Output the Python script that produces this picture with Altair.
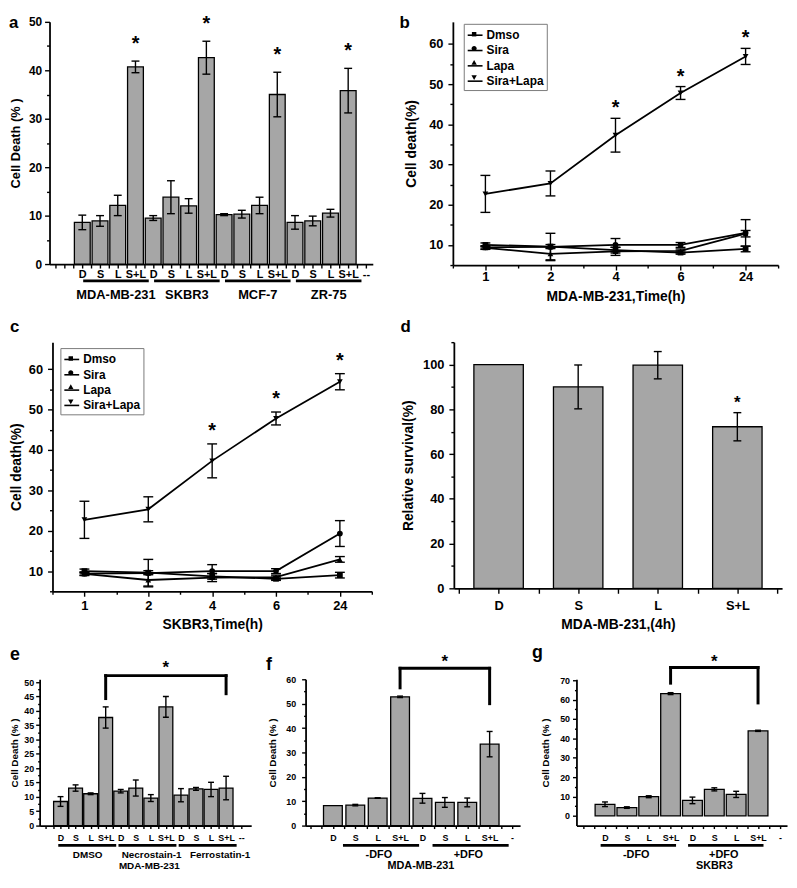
import json
import altair as alt
import pandas as pd

FONT = "Liberation Sans"
BAR_FILL = "#a6a6a6"

# ---------------- data ----------------
treat = ["D", "S", "L", "S+L"]

# panel a
a_groups = ["MDA-MB-231", "SKBR3", "MCF-7", "ZR-75"]
a_mean = [8.6, 8.9, 12.1, 40.7, 9.5, 13.8, 12.0, 42.6, 10.2, 10.3, 12.1, 35.0, 8.6, 8.9, 10.5, 35.8]
a_err = [1.5, 1.1, 2.1, 1.2, 0.5, 3.4, 1.5, 3.4, 0.2, 0.8, 1.7, 4.6, 1.4, 1.0, 0.8, 4.6]

# panels b / c
time_labels = ["1", "2", "4", "6", "24"]
series = ["Dmso", "Sira", "Lapa", "Sira+Lapa"]
b_dmso = [10.0, 9.6, 8.7, 8.1, 9.0]
b_dmso_err = [0.5, 0.5, 0.7, 0.4, 0.7]
b_sira = [9.4, 9.5, 10.0, 10.0, 13.0]
b_sira_err = [0.4, 3.4, 1.6, 0.6, 3.3]
b_lapa = [9.3, 7.8, 8.4, 8.5, 12.8]
b_lapa_err = [0.4, 1.5, 1.0, 0.5, 0.8]
b_combo = [22.7, 25.3, 37.3, 47.8, 56.9]
b_combo_err = [4.6, 3.1, 4.2, 1.6, 2.0]

c_dmso = [10.0, 9.6, 8.7, 8.1, 9.0]
c_dmso_err = [0.5, 0.5, 0.7, 0.4, 0.7]
c_sira = [9.4, 9.5, 10.0, 10.0, 19.3]
c_sira_err = [0.4, 3.4, 1.6, 0.6, 3.2]
c_lapa = [9.3, 7.8, 8.4, 8.5, 12.9]
c_lapa_err = [0.4, 1.5, 1.0, 0.5, 0.7]
c_combo = [22.7, 25.3, 37.3, 47.8, 56.9]
c_combo_err = [4.6, 3.1, 4.2, 1.6, 2.0]
star_times = [2, 3, 4]

# panel d
d_labels = ["D", "S", "L", "S+L"]
d_mean = [100.0, 90.0, 99.7, 72.2]
d_err = [0.0, 9.8, 6.1, 6.3]

# panel e
e_groups = ["DMSO", "Necrostain-1", "Ferrostatin-1"]
e_mean = [8.4, 13.1, 11.1, 37.7, 12.0, 13.1, 9.6, 41.4, 10.6, 12.8, 12.6, 13.1]
e_err = [1.7, 1.1, 0.3, 3.7, 0.6, 2.8, 1.2, 3.6, 2.3, 0.5, 2.5, 4.1]
e_bracket = [52.3, 44.3, 46.0]   # top, left leg end, right leg end

# panel f
f_groups = ["-DFO", "+DFO"]
f_mean = [8.2, 8.4, 11.3, 52.8, 11.2, 9.5, 9.5, 33.4]
f_err = [0.0, 0.3, 0.1, 0.3, 2.0, 2.0, 1.8, 5.2]
f_bracket = [64.5, 56.5, 50.0]

# panel g
g_groups = ["-DFO", "+DFO"]
g_mean = [6.0, 4.3, 9.9, 63.1, 8.0, 13.7, 11.1, 43.9]
g_err = [1.2, 0.4, 0.5, 0.5, 1.7, 0.8, 1.6, 0.3]
g_bracket = [76.6, 68.5, 58.3]

SHAPES = ["square", "circle", "triangle-up", "triangle-down"]
LEG_SHAPES = [
    "M-0.3,-0.3H0.3V0.3H-0.3Z",
    "M0.34,0A0.34,0.34 0 1,1 -0.34,0A0.34,0.34 0 1,1 0.34,0Z",
    "M0,-0.38L0.36,0.26H-0.36Z",
    "M0,0.38L0.36,-0.26H-0.36Z",
]


# ---------------- helpers ----------------
def half_ticks(lo, hi):
    return [k / 2 for k in range(int(lo * 2) - 2, int(hi * 2) + 3) if lo - 1e-9 <= k / 2 <= hi + 1e-9]


def frame(L, R, T, B):
    # invisible box fixing the panel's extent in the grid
    return alt.Chart(pd.DataFrame({"k": [0]})).mark_rect(opacity=0).encode(
        x=alt.value(L), x2=alt.value(R), y=alt.value(T), y2=alt.value(B))


def spacer():
    # 1px anchor at the left of each row so that rows start at the same x
    return frame(0, 1, 0, 1).properties(width=1, height=1)


def letter(txt, x, y, size=17):
    return alt.Chart(pd.DataFrame({"t": [txt]})).mark_text(
        align="left", baseline="middle", fontSize=size, fontWeight="bold", font=FONT, color="black"
    ).encode(text="t:N", x=alt.value(x), y=alt.value(y))


def y_axis(c):
    m = c["ymaj"]
    return alt.Axis(
        title=c["ytitle"], values=c["yvals"],
        labelExpr=f"datum.value % {m} === 0 ? datum.label : ''",
        tickSize={"condition": {"test": f"datum.value % {m} === 0", "value": c.get("ytick", 5)},
                  "value": c.get("ytick_minor", 3)},
        labelFontSize=c["yfs"], labelPadding=c["ylabpad"], titleFontSize=c["ytfs"],
        titlePadding=c["ytpad"], labelOverlap=False, labelFlush=False)


def x_axis(c):
    arr = json.dumps(c["xlabels"])
    kw = dict(values=half_ticks(*c["xdom"]),
              labelExpr=f"{arr}[datum.value] || ''",
              tickSize={"condition": {"test": "datum.value % 1 === 0", "value": c["xtick"]},
                        "value": c.get("xtick_minor", c["xtick"])},
              labelFontSize=c["xfs"], labelPadding=c["xpad"], labelOverlap=False,
              labelFlush=False, labelBound=False)
    if c.get("xtitle"):
        kw.update(title=c["xtitle"], titleFontSize=c["xtfs"], titlePadding=c["xtpad"])
    else:
        kw.update(title=None)
    return alt.Axis(**kw)


class Enc:
    def __init__(self, c):
        self.xs = alt.Scale(domain=c["xdom"], nice=False, zero=False)
        self.ys = alt.Scale(domain=c["ydom"], nice=False, zero=False)
        self.xa = x_axis(c)
        self.ya = y_axis(c)

    def X(self, f):
        return alt.X(f"{f}:Q", scale=self.xs, axis=self.xa)

    def Y(self, f):
        return alt.Y(f"{f}:Q", scale=self.ys, axis=self.ya)


def err_layers(df, E, cap):
    errs = alt.Chart(df).transform_filter("datum.err > 0")
    rule = errs.mark_rule(color="black", strokeWidth=1.4).encode(
        x=E.X("pos"), y=E.Y("lo"), y2="hi:Q")
    lo = errs.mark_tick(color="black", orient="horizontal", size=cap, thickness=1.4, opacity=1).encode(
        x=E.X("pos"), y=E.Y("lo"))
    hi = errs.mark_tick(color="black", orient="horizontal", size=cap, thickness=1.4, opacity=1).encode(
        x=E.X("pos"), y=E.Y("hi"))
    return [rule, lo, hi]


def bar_panel(c):
    n = len(c["mean"])
    df = pd.DataFrame({"pos": list(range(1, n + 1)), "mean": c["mean"], "err": c["err"]})
    df["lo"] = df["mean"] - df["err"]
    df["hi"] = df["mean"] + df["err"]
    df["star"] = c["star"]
    W, H = c["W"], c["H"]
    E = Enc(c)
    base = alt.Chart(df)
    layers = [frame(*c["frame"])]
    layers.append(base.mark_bar(width=c["bw"], fill=BAR_FILL, stroke="black", strokeWidth=1.3).encode(
        x=E.X("pos"), y=E.Y("mean"), y2=alt.value(H)))
    layers += err_layers(df, E, c["cap"])
    if any(c["star"]):
        layers.append(base.transform_filter("datum.star").mark_text(
            text="*", fontSize=c["sfs"], dy=-c["sd"], baseline="middle", font=FONT,
            fontWeight="bold", color="black").encode(x=E.X("pos"), y=E.Y("hi")))
    if c.get("groups"):
        g = c["groups"]
        starts = [1 + 4 * i for i in range(len(g))]
        offc = c["goffc"] if isinstance(c["goffc"], list) else [c["goffc"]] * len(g)
        gdf = pd.DataFrame({"name": g,
                            "x1": [s + c["goff1"] for s in starts],
                            "x2": [s + c["goff2"] for s in starts],
                            "xc": [s + o for s, o in zip(starts, offc)]})
        layers.append(alt.Chart(gdf).mark_rule(color="black", strokeWidth=3).encode(
            x=E.X("x1"), x2="x2:Q", y=alt.value(H + c["uoff"])))
        layers.append(alt.Chart(gdf).mark_text(
            fontSize=c["gfs"], baseline="middle", font=FONT, fontWeight="bold", color="black").encode(
            x=E.X("xc"), y=alt.value(H + c["goff"]), text="name:N"))
    if c.get("title"):
        tdf = pd.DataFrame({"t": [c["title"]], "xc": [c["title_x"]]})
        layers.append(alt.Chart(tdf).mark_text(
            fontSize=c["tfs"], baseline="middle", font=FONT, fontWeight="bold", color="black").encode(
            x=E.X("xc"), y=alt.value(H + c["toff"]), text="t:N"))
    if c.get("bracket"):
        top, lb, rb = c["bracket"]
        xa, xb = c["bracket_x"]
        bdf = pd.DataFrame({"x": [xa, xa, xb], "x2": [xb, xa, xb],
                            "y": [top, lb, rb], "y2": [top, top, top]})
        layers.append(alt.Chart(bdf).mark_rule(color="black", strokeWidth=3, strokeCap="square").encode(
            x=E.X("x"), x2="x2:Q", y=E.Y("y"), y2="y2:Q"))
        sdf = pd.DataFrame({"x": [(xa + xb) / 2], "y": [top]})
        layers.append(alt.Chart(sdf).mark_text(
            text="*", fontSize=c["bsfs"], dy=-c["bsd"], baseline="middle", font=FONT,
            fontWeight="bold", color="black").encode(x=E.X("x"), y=E.Y("y")))
    layers.append(letter(*c["letter"]))
    return alt.layer(*layers).properties(width=W, height=H)


def legend_props(c):
    return dict(orient="none", legendX=c["legend"][0], legendY=c["legend"][1], title=None,
                padding=3, rowPadding=0.5, labelFont=FONT, labelFontWeight="bold",
                labelFontSize=12, labelColor="black", labelOffset=3, symbolSize=225)


def line_panel(c):
    rows = []
    for si, name in enumerate(series):
        for ti in range(len(time_labels)):
            m = c["means"][si][ti]
            e = c["errs"][si][ti]
            rows.append({"series": name, "pos": ti, "mean": m, "err": e, "lo": m - e, "hi": m + e,
                         "star": bool(name == "Sira+Lapa" and ti in star_times)})
    df = pd.DataFrame(rows)
    W, H = c["W"], c["H"]
    E = Enc(c)
    base = alt.Chart(df)
    layers = [frame(*c["frame"])]
    layers.append(base.mark_line(color="black", strokeWidth=1.8).encode(
        x=E.X("pos"), y=E.Y("mean"), detail="series:N"))
    layers += err_layers(df, E, c["cap"])
    layers.append(base.mark_point(filled=True, color="black", size=34, opacity=1).encode(
        x=E.X("pos"), y=E.Y("mean"),
        shape=alt.Shape("series:N", scale=alt.Scale(domain=series, range=SHAPES), legend=None)))
    # legend, line part with labels
    layers.append(base.transform_filter("false").mark_line(strokeWidth=1.6).encode(
        x=E.X("pos"), y=E.Y("mean"),
        color=alt.Color("series:N", scale=alt.Scale(domain=series, range=["black"] * 4),
                        legend=alt.Legend(symbolType="stroke", symbolStrokeWidth=1.6,
                                          strokeColor="#7a7a7a", **legend_props(c)))))
    # legend, marker part drawn over the line part (no labels)
    layers.append(base.transform_filter("false").mark_point(filled=True, color="black", opacity=1).encode(
        x=E.X("pos"), y=E.Y("mean"),
        shape=alt.Shape("series:N", scale=alt.Scale(domain=series, range=LEG_SHAPES),
                        legend=alt.Legend(labelExpr="''", symbolFillColor="black",
                                          symbolStrokeWidth=0, **legend_props(c)))))
    layers.append(base.transform_filter("datum.star").mark_text(
        text="*", fontSize=20, dy=-c["sd"], baseline="middle", font=FONT, fontWeight="bold",
        color="black").encode(x=E.X("pos"), y=E.Y("hi")))
    layers.append(letter(*c["letter"]))
    return alt.layer(*layers).properties(width=W, height=H).resolve_scale(
        shape="independent", color="independent")


# ---------------- panels ----------------
# plot tops: row 1 at page y=17, row 2 at 341, row 3 at 682
pa = bar_panel(dict(
    mean=a_mean, err=a_err, star=[t == "S+L" for t in treat * 4],
    W=327, H=245, xdom=[-0.57, 17.11], ydom=[0, 50],
    xlabels=[""] + treat * 4 + ["--"], xfs=11, xtick=4, xpad=1,
    yvals=[i * 5 for i in range(11)], ymaj=10, yfs=12, ylabpad=3,
    ytitle="Cell Death (% )", ytfs=13, ytpad=6,
    bw=16, cap=8, sfs=20, sd=17,
    groups=a_groups, goff1=0.05, goff2=3.75, goffc=1.9, uoff=17, goff=31, gfs=13,
    frame=(-41, 350, -9, 286), letter=("a", -41, 1, 17)))

pb = line_panel(dict(
    means=[b_dmso, b_sira, b_lapa, b_combo], errs=[b_dmso_err, b_sira_err, b_lapa_err, b_combo_err],
    W=329, H=246, xdom=[-0.5, 4.5], ydom=[5, 65.5],
    xlabels=time_labels, xfs=13, xtick=5, xtick_minor=3, xpad=1,
    xtitle="MDA-MB-231,Time(h)", xtfs=14, xtpad=6,
    yvals=[5 * i for i in range(1, 13)], ymaj=10, yfs=13, ylabpad=5,
    ytitle="Cell death(%)", ytfs=14, ytpad=10,
    cap=10, sd=10, legend=(11, 2),
    frame=(-58, 339, -9, 286), letter=("b", -54, 1, 17)))

pc = line_panel(dict(
    means=[c_dmso, c_sira, c_lapa, c_combo], errs=[c_dmso_err, c_sira_err, c_lapa_err, c_combo_err],
    W=323, H=252, xdom=[-0.5, 4.5], ydom=[5, 66.7],
    xlabels=time_labels, xfs=13, xtick=5, xtick_minor=3, xpad=3,
    xtitle="SKBR3,Time(h)", xtfs=14, xtpad=6,
    yvals=[5 * i for i in range(1, 13)], ymaj=10, yfs=13, ylabpad=5,
    ytitle="Cell death(%)", ytfs=14, ytpad=5,
    cap=10, sd=13, legend=(8, 6),
    frame=(-43, 348, -38, 299), letter=("c", -43, -15, 17)))

pd_ = bar_panel(dict(
    mean=d_mean, err=d_err, star=[False, False, False, True],
    W=332, H=249, xdom=[0.5, 4.5], ydom=[0, 110],
    xlabels=[""] + d_labels, xfs=13, xtick=5, xpad=6,
    xtitle="MDA-MB-231,(4h)", xtfs=14, xtpad=6,
    yvals=[10 * i for i in range(12)], ymaj=20, yfs=13, ylabpad=5,
    ytitle="Relative survival(%)", ytfs=14, ytpad=7,
    bw=50, cap=8, sfs=17, sd=10,
    frame=(-58, 339, -38, 299), letter=("d", -54, -15, 17)))

pe = bar_panel(dict(
    mean=e_mean, err=e_err, star=[False] * 12,
    W=214, H=148, xdom=[-0.06, 13.34], ydom=[0, 51.03],
    xlabels=[""] + treat * 3 + ["--"], xfs=9, xtick=3, xpad=5,
    yvals=[2.5 * i for i in range(21)], ymaj=5, yfs=9, ylabpad=2, ytick=4, ytick_minor=2,
    ytitle="Cell Death (% )", ytfs=10, ytpad=4,
    bw=14, cap=6,
    groups=e_groups, goff1=-0.15, goff2=3.7, goffc=[1.8, 2.05, 2.6], uoff=20, goff=30, gfs=10,
    title="MDA-MB-231", title_x=6.9, toff=41, tfs=10,
    bracket=e_bracket, bracket_x=(4, 12), bsfs=17, bsd=8,
    frame=(-30, 226, -42, 196), letter=("e", -30, -24, 18)))

pf = bar_panel(dict(
    mean=f_mean, err=f_err, star=[False] * 8,
    W=217, H=148, xdom=[0.0, 9.14], ydom=[0, 60],
    xlabels=[""] + treat * 2 + ["-"], xfs=9, xtick=3, xpad=5,
    yvals=[5 * i for i in range(13)], ymaj=10, yfs=9, ylabpad=6, ytick=4, ytick_minor=2,
    ytitle="Cell Death (% )", ytfs=10, ytpad=8,
    bw=19, cap=6,
    groups=f_groups, goff1=0.45, goff2=3.85, goffc=2.05, uoff=20, goff=30, gfs=11,
    title="MDA-MB-231", title_x=4.93, toff=41, tfs=11,
    bracket=f_bracket, bracket_x=(4, 8), bsfs=17, bsd=6,
    frame=(-43, 222, -42, 196), letter=("f", -40, -14, 18)))

pg = bar_panel(dict(
    mean=g_mean, err=g_err, star=[False] * 8,
    W=213, H=148, xdom=[-0.08, 9.1], ydom=[-5, 70.5],
    xlabels=[""] + treat * 2 + ["-"], xfs=9, xtick=3, xpad=5,
    yvals=[5 * i for i in range(15)], ymaj=10, yfs=9, ylabpad=3, ytick=4, ytick_minor=2,
    ytitle="Cell Death (% )", ytfs=10, ytpad=9,
    bw=20, cap=6,
    groups=g_groups, goff1=-0.2, goff2=3.25, goffc=1.43, uoff=20, goff=30, gfs=11,
    title="SKBR3", title_x=6.0, toff=41, tfs=11,
    bracket=g_bracket, bracket_x=(4, 8), bsfs=17, bsd=5,
    frame=(-52, 215, -42, 196), letter=("g", -45, -27, 18)))

row1 = alt.hconcat(spacer(), pa, pb, spacing=0).resolve_scale(color="independent", shape="independent")
row2 = alt.hconcat(spacer(), pc, pd_, spacing=0).resolve_scale(color="independent", shape="independent")
row3 = alt.hconcat(spacer(), pe, pf, pg, spacing=0)

chart = alt.vconcat(row1, row2, row3, spacing=0).properties(
    padding=0
).resolve_scale(color="independent", shape="independent").configure_view(stroke=None).configure_axis(
    domainColor="black", domainWidth=1.8, tickColor="black", tickWidth=1.4,
    labelColor="black", titleColor="black", labelFont=FONT, titleFont=FONT,
    labelFontWeight="bold", titleFontWeight="bold", grid=False)

chart.save("out.html", embed_options={"renderer": "svg", "actions": False})
